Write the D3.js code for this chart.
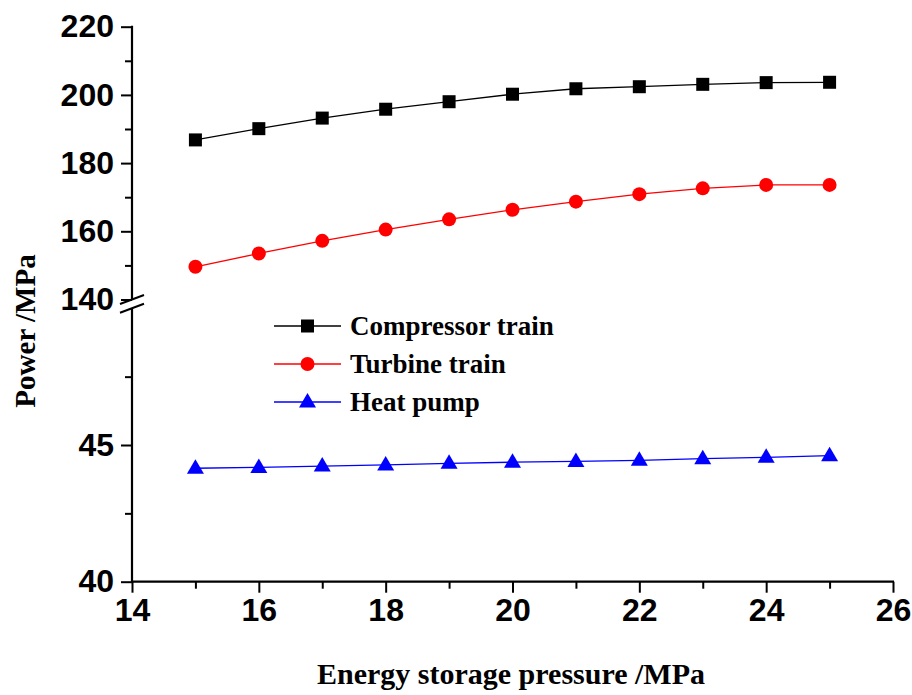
<!DOCTYPE html>
<html>
<head>
<meta charset="utf-8">
<script src="https://cdn.jsdelivr.net/npm/d3@7"></script>
<style>
  html, body { margin: 0; padding: 0; background: #fff; }
  svg { display: block; }
</style>
</head>
<body>
<svg id="chart" width="912" height="695"></svg>
<script>
// Storage pressure (MPa)
const pressure = [15, 16, 17, 18, 19, 20, 21, 22, 23, 24, 25];
// Power of each train
const compressorTrain = [186.8, 190.1, 193.2, 195.8, 198.0, 200.2, 201.8, 202.4, 203.1, 203.6, 203.7];
const turbineTrain    = [149.6, 153.5, 157.2, 160.5, 163.5, 166.3, 168.7, 170.9, 172.6, 173.6, 173.6];
const heatPump        = [44.15, 44.18, 44.23, 44.27, 44.33, 44.37, 44.40, 44.44, 44.50, 44.55, 44.61];

const seriesNames = ["Compressor train", "Turbine train", "Heat pump"];
const xTicks = [14, 16, 18, 20, 22, 24, 26];
const xMinorTicks = [15, 17, 19, 21, 23, 25];
const yUpperTicks = [140, 160, 180, 200, 220];
const yUpperMinor = [150, 170, 190, 210];
const yLowerTicks = [40, 45];
const yLowerMinor = [42.5, 47.5];

const svg = d3.select("#chart");

// Layout
const axisX = 132, axisBottom = 581.7;
const x = d3.scaleLinear().domain([14, 26]).range([axisX, 893]);
// Broken y axis: upper panel for the trains, lower panel for the heat pump
const yUp = d3.scaleLinear().domain([140, 220]).range([299.5, 26.7]);
const yLo = d3.scaleLinear().domain([40, 50]).range([axisBottom, 308.3]);

const tickFont = "'Liberation Sans', Arial, sans-serif";
const titleFont = "'Liberation Serif', 'Times New Roman', serif";

function styleAxis(g) {
  g.selectAll(".domain").remove();
  g.selectAll(".tick line").attr("stroke", "#000").attr("stroke-width", 2);
  g.selectAll(".tick text")
    .attr("font-family", tickFont)
    .attr("font-weight", "bold")
    .attr("font-size", 32)
    .attr("fill", "#000");
}

// ---- Y axis (upper part)
const gUp = svg.append("g").attr("transform", `translate(${axisX},0)`);
gUp.append("g").call(d3.axisLeft(yUp).tickValues(yUpperTicks).tickSize(11).tickPadding(7).tickFormat(d3.format("d"))).call(styleAxis);
gUp.append("g").call(d3.axisLeft(yUp).tickValues(yUpperMinor).tickSize(7).tickFormat("")).call(styleAxis);

// ---- Y axis (lower part)
const gLo = svg.append("g").attr("transform", `translate(${axisX},0)`);
gLo.append("g").call(d3.axisLeft(yLo).tickValues(yLowerTicks).tickSize(11).tickPadding(7).tickFormat(d3.format("d"))).call(styleAxis);
gLo.append("g").call(d3.axisLeft(yLo).tickValues(yLowerMinor).tickSize(7).tickFormat("")).call(styleAxis);

// ---- X axis
const gX = svg.append("g").attr("transform", `translate(0,${axisBottom})`);
gX.append("g").call(d3.axisBottom(x).tickValues(xTicks).tickSize(11).tickPadding(6).tickFormat(d3.format("d"))).call(styleAxis);
gX.append("g").call(d3.axisBottom(x).tickValues(xMinorTicks).tickSize(7).tickFormat("")).call(styleAxis);

// Axis lines
const axisLines = svg.append("g").attr("stroke", "#000").attr("stroke-width", 2.2).attr("fill", "none");
axisLines.append("line").attr("x1", axisX).attr("x2", axisX).attr("y1", yUp(220) - 1).attr("y2", yUp(140));
axisLines.append("line").attr("x1", axisX).attr("x2", axisX).attr("y1", yLo(50)).attr("y2", yLo(40) + 1);
axisLines.append("line").attr("x1", x(14) - 1).attr("x2", x(26) + 1).attr("y1", axisBottom).attr("y2", axisBottom);

// Break marks on the y axis
const brk = svg.append("g").attr("stroke", "#000").attr("stroke-width", 2);
[yUp(140), yLo(50)].forEach(yy => {
  brk.append("line")
    .attr("x1", axisX - 12).attr("y1", yy + 4.5)
    .attr("x2", axisX + 12).attr("y2", yy - 4.5);
});

// ---- Series
const series = [
  { name: seriesNames[0], values: compressorTrain, y: yUp, color: "#000000", shape: "square" },
  { name: seriesNames[1], values: turbineTrain,    y: yUp, color: "#ff0000", shape: "circle" },
  { name: seriesNames[2], values: heatPump,        y: yLo, color: "#0000ff", shape: "triangle" }
];

function drawMarker(g, shape, color, cx, cy) {
  if (shape === "square") {
    g.append("rect").attr("x", cx - 6.5).attr("y", cy - 6.5)
      .attr("width", 13).attr("height", 13).attr("fill", color);
  } else if (shape === "circle") {
    g.append("circle").attr("cx", cx).attr("cy", cy).attr("r", 7).attr("fill", color);
  } else {
    g.append("path")
      .attr("d", `M${cx},${cy - 9}L${cx + 8.5},${cy + 5.5}L${cx - 8.5},${cy + 5.5}Z`)
      .attr("fill", color);
  }
}

series.forEach(s => {
  const line = d3.line().x((d, i) => x(pressure[i])).y(d => s.y(d));
  svg.append("path")
    .datum(s.values)
    .attr("d", line)
    .attr("fill", "none")
    .attr("stroke", s.color)
    .attr("stroke-width", 1.3);
  const gm = svg.append("g");
  s.values.forEach((v, i) => drawMarker(gm, s.shape, s.color, x(pressure[i]), s.y(v)));
});

// ---- Legend
const legend = svg.append("g");
series.forEach((s, i) => {
  const ly = 326 + i * 38;
  legend.append("line")
    .attr("x1", 274).attr("x2", 341).attr("y1", ly).attr("y2", ly)
    .attr("stroke", s.color).attr("stroke-width", 1.3);
  drawMarker(legend, s.shape, s.color, 307.5, ly);
  legend.append("text")
    .attr("x", 350).attr("y", ly)
    .attr("dy", "0.35em")
    .attr("font-family", titleFont)
    .attr("font-weight", "bold")
    .attr("font-size", 27)
    .attr("fill", "#000")
    .text(s.name);
});

// ---- Axis titles
svg.append("text")
  .attr("x", 511).attr("y", 684)
  .attr("text-anchor", "middle")
  .attr("font-family", titleFont)
  .attr("font-weight", "bold")
  .attr("font-size", 30)
  .attr("fill", "#000")
  .text("Energy storage pressure /MPa");

svg.append("text")
  .attr("transform", "translate(35,331) rotate(-90)")
  .attr("text-anchor", "middle")
  .attr("font-family", titleFont)
  .attr("font-weight", "bold")
  .attr("font-size", 29)
  .attr("fill", "#000")
  .text("Power /MPa");
</script>
</body>
</html>
